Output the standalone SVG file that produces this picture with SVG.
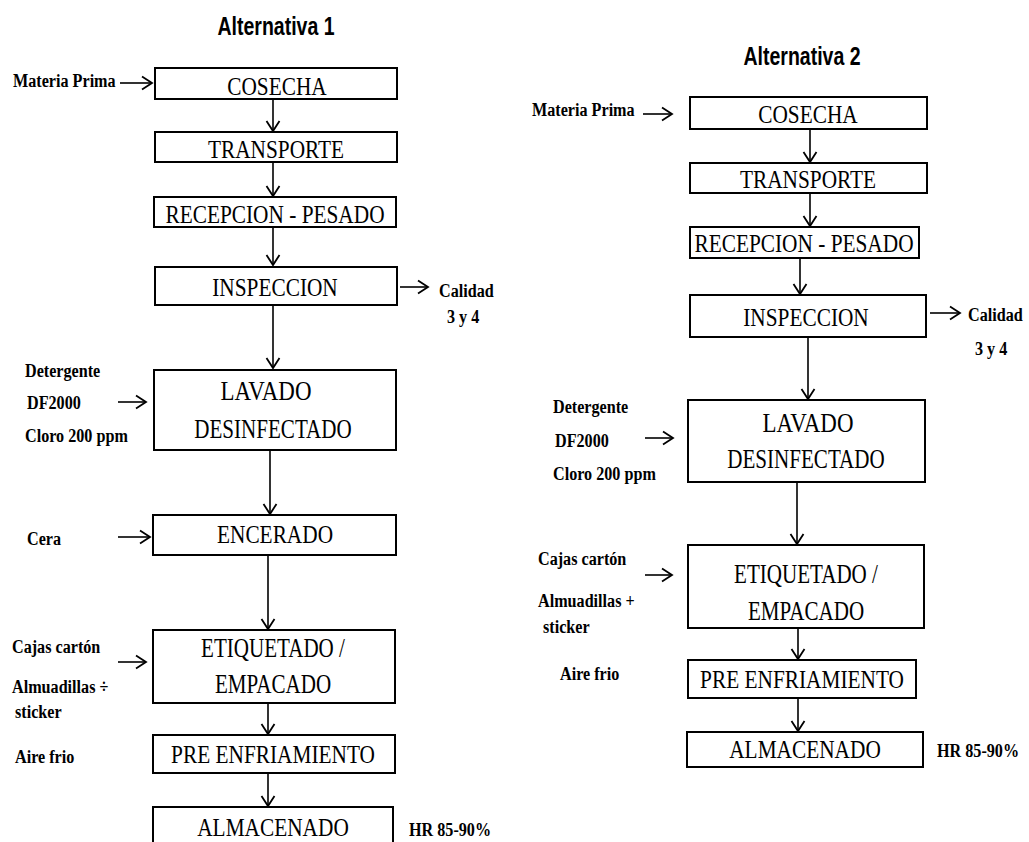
<svg xmlns="http://www.w3.org/2000/svg" width="1029" height="842" viewBox="0 0 1029 842">
<style>
.box{fill:#fff;stroke:#000;stroke-width:2}
.t{font-family:"Liberation Serif","Times New Roman",serif;font-size:26px;fill:#000;text-anchor:middle}
.t2{font-family:"Liberation Serif","Times New Roman",serif;font-size:27px;fill:#000;text-anchor:middle}
.l{font-family:"Liberation Serif","Times New Roman",serif;font-size:19px;font-weight:bold;fill:#000}
.h{font-family:"Liberation Sans",Arial,sans-serif;font-size:26px;font-weight:bold;fill:#000;text-anchor:middle}
.c{stroke:#000;stroke-width:1.6;fill:none;marker-end:url(#ah)}
</style>
<defs>
<marker id="ah" viewBox="-11 -8 13 16" refX="0" refY="0" markerWidth="13" markerHeight="16" markerUnits="userSpaceOnUse" orient="auto">
<path d="M-10,-6.5 L0,0 L-10,6.5" fill="none" stroke="#000" stroke-width="1.8"/>
</marker>
</defs>
<rect width="1029" height="842" fill="#fff"/>

<g id="title1"><text class="h" transform="translate(276,35) scale(0.75,1)">Alternativa 1</text></g>
<g id="title2"><text class="h" transform="translate(802,65) scale(0.75,1)">Alternativa 2</text></g>

<g id="connectors">
<line class="c" x1="120" y1="83" x2="152" y2="83"/>
<line class="c" x1="273" y1="99" x2="273" y2="131"/>
<line class="c" x1="273" y1="162" x2="273" y2="196"/>
<line class="c" x1="273" y1="227" x2="273" y2="265"/>
<line class="c" x1="400" y1="287" x2="428" y2="287"/>
<line class="c" x1="273" y1="305" x2="273" y2="368"/>
<line class="c" x1="118" y1="402" x2="146" y2="402"/>
<line class="c" x1="270" y1="450" x2="270" y2="514"/>
<line class="c" x1="118" y1="537" x2="150" y2="537"/>
<line class="c" x1="268" y1="555" x2="268" y2="629"/>
<line class="c" x1="118" y1="662" x2="146" y2="662"/>
<line class="c" x1="268" y1="703" x2="268" y2="734"/>
<line class="c" x1="268" y1="773" x2="268" y2="806"/>

<line class="c" x1="643" y1="114" x2="672" y2="114"/>
<line class="c" x1="810" y1="129" x2="810" y2="162"/>
<line class="c" x1="810" y1="193" x2="810" y2="226"/>
<line class="c" x1="800" y1="258" x2="800" y2="294"/>
<line class="c" x1="930" y1="313" x2="960" y2="313"/>
<line class="c" x1="808" y1="337" x2="808" y2="399"/>
<line class="c" x1="645" y1="438" x2="673" y2="438"/>
<line class="c" x1="797" y1="482" x2="797" y2="544"/>
<line class="c" x1="645" y1="575" x2="672" y2="575"/>
<line class="c" x1="798" y1="628" x2="798" y2="659"/>
<line class="c" x1="798" y1="698" x2="798" y2="731"/>
</g>

<!-- Alternativa 1 nodes -->
<g id="a1-cosecha"><rect class="box" x="155" y="68" width="242" height="31"/><text class="t" transform="translate(277,95) scale(0.82,1)">COSECHA</text></g>
<g id="a1-transporte"><rect class="box" x="155" y="132" width="242" height="30"/><text class="t" transform="translate(276,158) scale(0.82,1)">TRANSPORTE</text></g>
<g id="a1-recepcion"><rect class="box" x="154" y="197" width="242" height="30"/><text class="t" transform="translate(275,223) scale(0.82,1)">RECEPCION - PESADO</text></g>
<g id="a1-inspeccion"><rect class="box" x="155" y="267" width="242" height="38"/><text class="t" transform="translate(275,296) scale(0.82,1)">INSPECCION</text></g>
<g id="a1-lavado"><rect class="box" x="154" y="370" width="242" height="80"/><text class="t2" transform="translate(266,400) scale(0.85,1)">LAVADO</text><text class="t2" transform="translate(273,438) scale(0.78,1)">DESINFECTADO</text></g>
<g id="a1-encerado"><rect class="box" x="153" y="515" width="243" height="40"/><text class="t" transform="translate(275,543) scale(0.82,1)">ENCERADO</text></g>
<g id="a1-etiquetado"><rect class="box" x="153" y="630" width="242" height="73"/><text class="t2" transform="translate(273,657) scale(0.78,1)">ETIQUETADO /</text><text class="t2" transform="translate(273,693) scale(0.78,1)">EMPACADO</text></g>
<g id="a1-preenfriamiento"><rect class="box" x="153" y="735" width="242" height="38"/><text class="t" transform="translate(273,763) scale(0.82,1)">PRE ENFRIAMIENTO</text></g>
<g id="a1-almacenado"><rect class="box" x="153" y="807" width="240" height="50"/><text class="t" transform="translate(273,836) scale(0.82,1)">ALMACENADO</text></g>

<g id="a1-labels">
<text class="l" transform="translate(13,87) scale(0.85,1)">Materia Prima</text>
<text class="l" transform="translate(439,297) scale(0.85,1)">Calidad</text>
<text class="l" transform="translate(447,323) scale(0.85,1)">3 y 4</text>
<text class="l" transform="translate(25,377) scale(0.85,1)">Detergente</text>
<text class="l" transform="translate(27,409) scale(0.85,1)">DF2000</text>
<text class="l" transform="translate(25,442) scale(0.85,1)">Cloro 200 ppm</text>
<text class="l" transform="translate(27,545) scale(0.85,1)">Cera</text>
<text class="l" transform="translate(12,653) scale(0.85,1)">Cajas cartón</text>
<text class="l" transform="translate(12,693) scale(0.85,1)">Almuadillas ÷</text>
<text class="l" transform="translate(15,718) scale(0.85,1)">sticker</text>
<text class="l" transform="translate(15,763) scale(0.85,1)">Aire frio</text>
<text class="l" transform="translate(409,836) scale(0.85,1)">HR 85-90%</text>
</g>

<!-- Alternativa 2 nodes -->
<g id="a2-cosecha"><rect class="box" x="690" y="97" width="237" height="32"/><text class="t" transform="translate(808,123) scale(0.82,1)">COSECHA</text></g>
<g id="a2-transporte"><rect class="box" x="690" y="163" width="237" height="30"/><text class="t" transform="translate(808,188) scale(0.82,1)">TRANSPORTE</text></g>
<g id="a2-recepcion"><rect class="box" x="690" y="227" width="229" height="31"/><text class="t" transform="translate(804,252) scale(0.82,1)">RECEPCION - PESADO</text></g>
<g id="a2-inspeccion"><rect class="box" x="690" y="295" width="236" height="42"/><text class="t" transform="translate(806,326) scale(0.82,1)">INSPECCION</text></g>
<g id="a2-lavado"><rect class="box" x="688" y="400" width="237" height="82"/><text class="t2" transform="translate(808,432) scale(0.85,1)">LAVADO</text><text class="t2" transform="translate(806,468) scale(0.78,1)">DESINFECTADO</text></g>
<g id="a2-etiquetado"><rect class="box" x="688" y="545" width="236" height="83"/><text class="t2" transform="translate(806,583) scale(0.78,1)">ETIQUETADO /</text><text class="t2" transform="translate(806,620) scale(0.78,1)">EMPACADO</text></g>
<g id="a2-preenfriamiento"><rect class="box" x="688" y="660" width="228" height="38"/><text class="t" transform="translate(802,688) scale(0.82,1)">PRE ENFRIAMIENTO</text></g>
<g id="a2-almacenado"><rect class="box" x="687" y="732" width="236" height="35"/><text class="t" transform="translate(805,758) scale(0.82,1)">ALMACENADO</text></g>

<g id="a2-labels">
<text class="l" transform="translate(532,116) scale(0.85,1)">Materia Prima</text>
<text class="l" transform="translate(968,321) scale(0.85,1)">Calidad</text>
<text class="l" transform="translate(975,355) scale(0.85,1)">3 y 4</text>
<text class="l" transform="translate(553,413) scale(0.85,1)">Detergente</text>
<text class="l" transform="translate(555,447) scale(0.85,1)">DF2000</text>
<text class="l" transform="translate(553,480) scale(0.85,1)">Cloro 200 ppm</text>
<text class="l" transform="translate(538,565) scale(0.85,1)">Cajas cartón</text>
<text class="l" transform="translate(538,607) scale(0.85,1)">Almuadillas +</text>
<text class="l" transform="translate(543,633) scale(0.85,1)">sticker</text>
<text class="l" transform="translate(560,680) scale(0.85,1)">Aire frio</text>
<text class="l" transform="translate(937,757) scale(0.85,1)">HR 85-90%</text>
</g>
</svg>
